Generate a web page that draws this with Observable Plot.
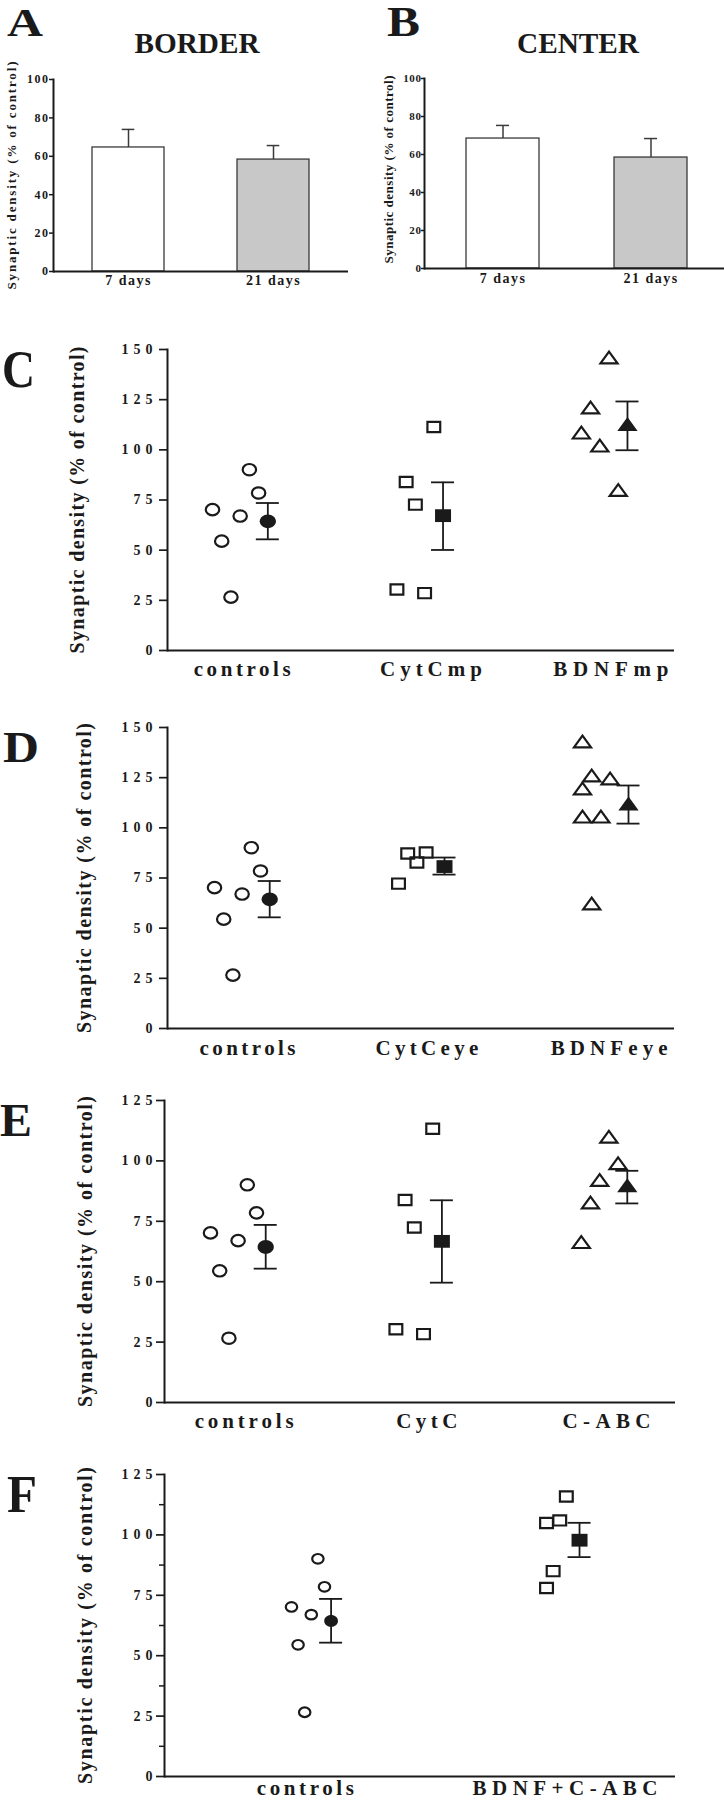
<!DOCTYPE html>
<html>
<head>
<meta charset="utf-8">
<script src="https://cdn.jsdelivr.net/npm/d3@7"></script>
<script src="https://cdn.jsdelivr.net/npm/@observablehq/plot@0.6"></script>
<style>
html,body{margin:0;padding:0;background:#fff;}
#page{position:relative;width:724px;height:1800px;overflow:hidden;background:#fff;}
</style>
</head>
<body>
<div id="page"></div>
<script>
// ================= DATA =================
const yTitle = "Synaptic density (% of control)";

// Panels A / B (bar charts)
const barDays = ["7 days", "21 days"];
const barTicks = [0, 20, 40, 60, 80, 100];
const borderMean = [64.6, 58.3];
const borderTop  = [74.0, 65.6];   // mean + SEM
const centerMean = [68.4, 58.4];
const centerTop  = [75.3, 68.4];

// Panels C-F (scatter with mean ± SEM)
const ticks150 = [0, 25, 50, 75, 100, 125, 150];
const ticks125 = [0, 25, 50, 75, 100, 125];
const minor125 = [12.5, 37.5, 62.5, 87.5, 112.5];

const controlsVals = [70.2, 54.5, 26.6, 67.0, 90.1, 78.5];
const controlsCol  = [0, 1, 2, 3, 4, 5];
const controlsStat = [64.4, 55.4, 73.5];      // mean, mean-SEM, mean+SEM

const cytCmpVals = [30.4, 84.0, 72.7, 28.6, 111.4];
const cytCmpCol  = [0, 1, 2, 3, 4];
const cytCmpStat = [67.2, 50.1, 83.8];
const bdnfMpVals = [108.6, 121.1, 102.1, 146.0, 80.0];
const bdnfMpCol  = [0, 1, 2, 3, 4];
const bdnfMpStat = [112.9, 99.8, 124.1];

const cytCeyeVals = [72.2, 87.2, 82.7, 87.7];
const cytCeyeCol  = [0, 1, 2, 3];
const cytCeyeStat = [80.7, 76.7, 85.2];
const bdnfEyeVals = [143.0, 126.1, 124.6, 119.6, 105.6, 105.6, 62.3];
const bdnfEyeCol  = [0, 1, 3, 0, 0, 2, 1];
const bdnfEyeStat = [112.1, 102.1, 121.1];

const cytCVals = [30.3, 83.8, 72.4, 28.3, 113.3];
const cytCCol  = [0, 1, 2, 3, 4];
const cytCStat = [66.7, 49.6, 83.7];
const cAbcVals = [66.4, 82.8, 92.1, 110.0, 99.0];
const cAbcCol  = [0, 1, 2, 3, 4];
const cAbcStat = [89.9, 82.4, 95.9];

const bdnfCabcVals = [104.9, 78.0, 85.0, 106.0, 115.9];
const bdnfCabcCol  = [0, 0, 1, 2, 3];
const bdnfCabcStat = [97.8, 90.8, 105.0];

// ================= STYLE / LAYOUT =================
const INK = "#1a1a1a";
const FONT = "'Liberation Serif','Times New Roman',serif";
const barFills = ["#ffffff", "#c8c8c8"];
const page = document.getElementById("page");

function place(el, left, top) {
  el.style.position = "absolute";
  el.style.left = left + "px";
  el.style.top = top + "px";
  el.style.margin = "0";
  page.appendChild(el);
}
function texts(svg, aria) {
  return d3.select(svg).selectAll(`g[aria-label="${aria}"] text`);
}
function textMark(svg, k) {
  return d3.select(d3.select(svg).selectAll('g[aria-label="text"]').nodes()[k]).selectAll("text");
}

// custom wide symbols (the figure's markers are slightly wider than tall)
function ovalSymbol(ky) {
  return {draw(ctx, size) {
    const rx = Math.sqrt(size / Math.PI), ry = rx * ky, k = 0.5523;
    ctx.moveTo(rx, 0);
    ctx.bezierCurveTo(rx, ry * k, rx * k, ry, 0, ry);
    ctx.bezierCurveTo(-rx * k, ry, -rx, ry * k, -rx, 0);
    ctx.bezierCurveTo(-rx, -ry * k, -rx * k, -ry, 0, -ry);
    ctx.bezierCurveTo(rx * k, -ry, rx, -ry * k, rx, 0);
    ctx.closePath();
  }};
}
function boxSymbol(ky) {
  return {draw(ctx, size) {
    const r = Math.sqrt(size / Math.PI);
    ctx.rect(-r, -r * ky, 2 * r, 2 * r * ky);
  }};
}
function triSymbol(kx) {
  return {draw(ctx, size) {
    const r = Math.sqrt(size / Math.PI);
    ctx.moveTo(0, -r);
    ctx.lineTo(r * kx, r);
    ctx.lineTo(-r * kx, r);
    ctx.closePath();
  }};
}
const SYM = {circle: ovalSymbol(0.85), square: boxSymbol(0.8), triangle: triSymbol(1.45)};
const OPEN_R = {circle: 6.7, square: 6.4, triangle: 5.9};
const FILL_R = {circle: 8.1, square: 8.0, triangle: 7.0};

// ---------- bar panel ----------
function barPanel(o) {
  const rows = barDays.map((day, i) => ({day, mean: o.mean[i], top: o.top[i], fill: barFills[i]}));
  const svg = Plot.plot({
    width: o.width, height: o.height,
    marginLeft: o.ml, marginRight: o.mr, marginTop: o.mt, marginBottom: o.mb,
    style: {fontFamily: FONT, fontWeight: "bold", fontSize: o.tickFont + "px", color: INK, background: "transparent", overflow: "visible"},
    x: {domain: barDays, paddingInner: o.pi, paddingOuter: o.po, align: o.align, axis: null, label: null},
    y: {domain: [0, 100], axis: null, label: null},
    color: {type: "identity"},
    marks: [
      Plot.barY(rows, {x: "day", y: "mean", fill: "fill", stroke: "#3a3a3a", strokeWidth: 1.3}),
      Plot.ruleX(rows, {x: "day", y1: "mean", y2: "top", stroke: "#3a3a3a", strokeWidth: 1.5}),
      Plot.tickY(rows, {x: "day", y: "top", stroke: "#3a3a3a", strokeWidth: 1.5, insetLeft: o.capInset, insetRight: o.capInset}),
      Plot.ruleY([0], {stroke: INK, strokeWidth: 2}),
      Plot.frame({anchor: "left", stroke: INK, strokeWidth: 2}),
      Plot.axisY({ticks: barTicks, tickSize: o.tickSize, tickPadding: o.tickPadding, fontSize: o.tickFont, strokeWidth: 1.5, label: null}),
      Plot.axisX({tickSize: 0, tickPadding: o.xPad, fontSize: 14, label: null}),
      Plot.text([yTitle], {text: d => d, frameAnchor: "left", textAnchor: "middle", lineAnchor: "middle", rotate: -90, dx: o.yDx, dy: o.yDy, fontSize: 13, fontWeight: "bold"})
    ]
  });
  texts(svg, "y-axis tick label").style("letter-spacing", o.tickLs + "px");
  texts(svg, "x-axis tick label").style("letter-spacing", "1.5px");
  textMark(svg, 0).attr("textLength", o.yLen).attr("lengthAdjust", "spacing");
  place(svg, o.left, o.top);
}

// ---------- scatter panel ----------
function scatterPanel(o) {
  const pts = [], stats = [];
  o.groups.forEach((grp, g) => {
    const base = g * o.gap;
    grp.vals.forEach((v, i) => pts.push({x: base + grp.cols[i], y: v, symbol: grp.symbol}));
    stats.push({x: base + grp.meanCol, mean: grp.stat[0], lo: grp.stat[1], hi: grp.stat[2],
                symbol: grp.symbol, name: grp.name, lx: base + grp.labelAt});
  });
  const pxPerUnit = (724 - o.ml - o.mr) / (o.xDomain[1] - o.xDomain[0]);
  const cap = 11.5 / pxPerUnit;
  const marks = [
    Plot.ruleY([0], {stroke: INK, strokeWidth: 2}),
    Plot.frame({anchor: "left", stroke: INK, strokeWidth: 2}),
    Plot.axisY({ticks: o.ticks, tickSize: 8, tickPadding: o.tickPadding, fontSize: 14, strokeWidth: 1.7, label: null})
  ];
  if (o.minor) marks.push(Plot.axisY({ticks: o.minor, tickSize: 5, tickFormat: () => "", strokeWidth: 1.5, label: null}));
  marks.push(
    Plot.ruleX(stats, {x: "x", y1: "lo", y2: "hi", stroke: INK, strokeWidth: 1.8}),
    Plot.ruleY(stats, {y: "lo", x1: d => d.x - cap, x2: d => d.x + cap, stroke: INK, strokeWidth: 1.8}),
    Plot.ruleY(stats, {y: "hi", x1: d => d.x - cap, x2: d => d.x + cap, stroke: INK, strokeWidth: 1.8})
  );
  for (const s of ["circle", "square", "triangle"]) {
    const sc = (s === "circle" && o.circleScale) ? o.circleScale : 1;
    marks.push(
      Plot.dot(pts.filter(d => d.symbol === s), {x: "x", y: "y", symbol: SYM[s], r: OPEN_R[s] * sc, fill: "none", stroke: INK, strokeWidth: 2.2}),
      Plot.dot(stats.filter(d => d.symbol === s), {x: "x", y: "mean", symbol: SYM[s], r: FILL_R[s] * sc, fill: INK, stroke: "none"})
    );
  }
  marks.push(
    Plot.text(stats, {x: "lx", text: "name", frameAnchor: "bottom", textAnchor: "middle", lineAnchor: "top", dy: o.labelDy, fontSize: 21, fontWeight: "bold"}),
    Plot.text([yTitle], {text: d => d, frameAnchor: "left", textAnchor: "middle", lineAnchor: "middle", rotate: -90, dx: o.yDx, fontSize: 20, fontWeight: "bold"})
  );
  const svg = Plot.plot({
    width: 724, height: o.height,
    marginLeft: o.ml, marginRight: o.mr, marginTop: o.mt, marginBottom: o.mb,
    style: {fontFamily: FONT, fontWeight: "bold", fontSize: "14px", color: INK, background: "transparent", overflow: "visible"},
    x: {domain: o.xDomain, axis: null, label: null},
    y: {domain: o.yDomain, axis: null, label: null},
    marks
  });
  texts(svg, "y-axis tick label").style("letter-spacing", "5px");
  textMark(svg, 0).each(function(d, i) {
    d3.select(this).attr("textLength", o.groups[i].labelLen).attr("lengthAdjust", "spacing");
  });
  textMark(svg, 1).attr("textLength", o.yLen).attr("lengthAdjust", "spacing");
  place(svg, 0, o.top);
}

// ---------- build ----------
barPanel({left: 0, top: 0, width: 362, height: 300, ml: 53, mr: 14, mt: 79, mb: 29,
  mean: borderMean, top: borderTop, pi: 0.503, po: 0.265, align: 0.5, capInset: 29.7,
  tickSize: 4, tickPadding: 0, tickFont: 12, tickLs: 1.5, xPad: 4, yDx: -41.3, yDy: 0, yLen: 228});
barPanel({left: 362, top: 0, width: 362, height: 300, ml: 62, mr: 0, mt: 78, mb: 32,
  mean: centerMean, top: centerTop, pi: 0.507, po: 0.267, align: 0.53, capInset: 30,
  tickSize: 3, tickPadding: 0, tickFont: 11, tickLs: 0.6, xPad: 5, yDx: -35.3, yDy: -4, yLen: 188});

scatterPanel({top: 300, height: 390, ml: 167, mr: 50, mt: 49, mb: 40,
  xDomain: [-4.88, 50.1], gap: 20, yDomain: [0, 150], ticks: ticks150, tickPadding: 2,
  yDx: -90, yLen: 307, labelDy: 11,
  groups: [
    {name: "controls", vals: controlsVals, cols: controlsCol, stat: controlsStat, meanCol: 6, symbol: "circle", labelAt: 3.22, labelLen: 97},
    {name: "CytCmp", vals: cytCmpVals, cols: cytCmpCol, stat: cytCmpStat, meanCol: 5, symbol: "square", labelAt: 3.69, labelLen: 102},
    {name: "BDNFmp", vals: bdnfMpVals, cols: bdnfMpCol, stat: bdnfMpStat, meanCol: 5, symbol: "triangle", labelAt: 3.2, labelLen: 115}
  ]});

scatterPanel({top: 690, height: 385, ml: 167, mr: 50, mt: 37, mb: 47,
  xDomain: [-5.11, 50], gap: 20, yDomain: [0, 150], ticks: ticks150, tickPadding: 2,
  yDx: -83, yLen: 310, labelDy: 12,
  groups: [
    {name: "controls", vals: controlsVals, cols: controlsCol, stat: controlsStat, meanCol: 6, symbol: "circle", labelAt: 3.59, labelLen: 96},
    {name: "CytCeye", vals: cytCeyeVals, cols: cytCeyeCol, stat: cytCeyeStat, meanCol: 5, symbol: "square", labelAt: 3.09, labelLen: 103},
    {name: "BDNFeye", vals: bdnfEyeVals, cols: bdnfEyeCol, stat: bdnfEyeStat, meanCol: 5, symbol: "triangle", labelAt: 2.9, labelLen: 117}
  ]});

scatterPanel({top: 1075, height: 370, ml: 164, mr: 49, mt: 25, mb: 43,
  xDomain: [-5, 50.54], gap: 20.15, yDomain: [0, 125], ticks: ticks125, tickPadding: -1,
  yDx: -79, yLen: 311, labelDy: 11,
  groups: [
    {name: "controls", vals: controlsVals, cols: controlsCol, stat: controlsStat, meanCol: 6, symbol: "circle", labelAt: 3.66, labelLen: 99},
    {name: "CytC", vals: cytCVals, cols: cytCCol, stat: cytCStat, meanCol: 5, symbol: "square", labelAt: 3.36, labelLen: 61},
    {name: "C-ABC", vals: cAbcVals, cols: cAbcCol, stat: cAbcStat, meanCol: 5, symbol: "triangle", labelAt: 2.74, labelLen: 88}
  ]});

scatterPanel({top: 1445, height: 355, ml: 164, mr: 49, mt: 29, mb: 24,
  xDomain: [-19.24, 58.18], gap: 38.64, yDomain: [0, 125], ticks: ticks125, minor: minor125, tickPadding: -1,
  yDx: -79, yLen: 317, labelDy: 4, circleScale: 0.85,
  groups: [
    {name: "controls", vals: controlsVals, cols: controlsCol, stat: controlsStat, meanCol: 6, symbol: "circle", labelAt: 2.1, labelLen: 97},
    {name: "BDNF+C-ABC", vals: bdnfCabcVals, cols: bdnfCabcCol, stat: bdnfCabcStat, meanCol: 5, symbol: "square", labelAt: 2.8, labelLen: 185}
  ]});

// ---------- panel letters and titles ----------
const overlay = d3.create("svg").attr("width", 724).attr("height", 1800)
  .style("position", "absolute").style("left", "0px").style("top", "0px")
  .style("pointer-events", "none").style("font-family", FONT).style("font-weight", "bold").style("fill", INK);
const letters = [
  {t: "A", x: 7, y: 36, s: 41, len: 36},
  {t: "B", x: 387, y: 36, s: 42, len: 33},
  {t: "C", x: 2, y: 387, s: 53, len: 33},
  {t: "D", x: 3, y: 762, s: 45, len: 36},
  {t: "E", x: 0, y: 1136, s: 46, len: 32},
  {t: "F", x: 7, y: 1512, s: 53, len: 30}
];
overlay.selectAll("text.letter").data(letters).join("text").attr("class", "letter")
  .attr("x", d => d.x).attr("y", d => d.y).attr("font-size", d => d.s)
  .attr("textLength", d => d.len).attr("lengthAdjust", "spacingAndGlyphs").text(d => d.t);
const titles = [
  {t: "BORDER", x: 197, y: 53, len: 125},
  {t: "CENTER", x: 578, y: 53, len: 122}
];
overlay.selectAll("text.title").data(titles).join("text").attr("class", "title")
  .attr("x", d => d.x).attr("y", d => d.y).attr("font-size", 29).attr("text-anchor", "middle")
  .attr("textLength", d => d.len).attr("lengthAdjust", "spacingAndGlyphs").text(d => d.t);
page.appendChild(overlay.node());
</script>
</body>
</html>
